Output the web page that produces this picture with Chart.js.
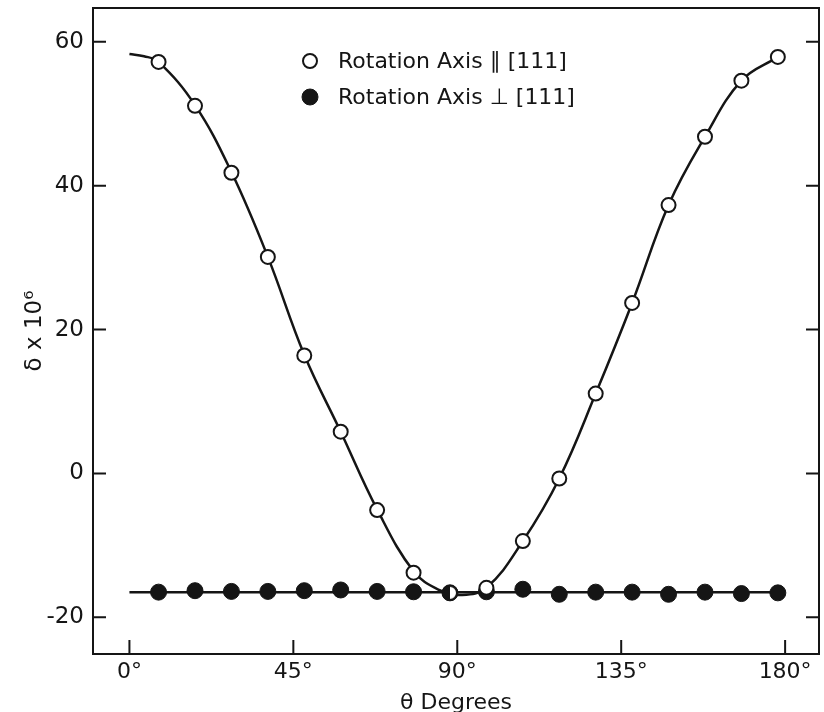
<!DOCTYPE html>
<html>
<head>
<meta charset="utf-8">
<script src="https://cdn.jsdelivr.net/npm/chart.js@4/dist/chart.umd.min.js"></script>
<style>
  html, body { margin: 0; padding: 0; background: #fff; overflow: hidden; }
  #wrap { width: 824px; height: 712px; }
  canvas { display: block; }
</style>
</head>
<body>
<div id="wrap"><canvas id="chart"></canvas></div>
<script>
// measured angles (deg) for both series
const thetaPoints = [8, 18, 28, 38, 48, 58, 68, 78, 88, 98, 108, 118, 128, 138, 148, 158, 168, 178];
// rotation axis parallel to [111]
const parallelDelta = [57.2, 51.1, 41.8, 30.1, 16.4, 5.8, -5.1, -13.8, -16.6, -15.9, -9.4, -0.7, 11.1, 23.7, 37.3, 46.8, 54.6, 57.9];
// rotation axis perpendicular to [111]
const perpDelta = [-16.5, -16.3, -16.4, -16.4, -16.3, -16.2, -16.4, -16.45, -16.6, -16.45, -16.1, -16.8, -16.5, -16.5, -16.8, -16.5, -16.7, -16.6];

// smooth curve drawn through the parallel data
const parallelFitTheta = [0, 4, 8, 18, 28, 38, 48, 58, 68, 78, 85, 91, 98, 108, 118, 128, 138, 148, 158, 168, 178];
const parallelFitDelta = [58.3, 58.0, 57.2, 51.2, 41.9, 30.1, 16.5, 5.8, -5.0, -13.6, -16.2, -16.9, -15.9, -9.4, -0.7, 11.1, 23.7, 37.3, 46.8, 54.6, 57.9];
// straight line through the perpendicular data
const perpFitTheta = [0, 180];
const perpFitDelta = [-16.5, -16.5];

const xTicks = [0, 45, 90, 135, 180];
const yTicks = [-20, 0, 20, 40, 60];
const labels = ['Rotation Axis \u2225 [111]', 'Rotation Axis \u22A5 [111]'];

const INK = '#151515';
const FONT = "'DejaVu Sans', sans-serif";
const overlapTheta = 88;

const toXY = (xs, ys) => xs.map((v, i) => ({ x: v, y: ys[i] }));

// half black / half white marker where the two series coincide
function halfMarker(r, bw) {
  const c = document.createElement('canvas');
  const s = Math.ceil(2 * r + bw + 2);
  c.width = s; c.height = s;
  const g = c.getContext('2d');
  const m = s / 2;
  g.fillStyle = '#fff';
  g.beginPath(); g.arc(m, m, r, 0, Math.PI * 2); g.fill();
  g.fillStyle = INK;
  g.beginPath(); g.arc(m, m, r, Math.PI / 2, Math.PI * 1.5); g.closePath(); g.fill();
  g.strokeStyle = INK; g.lineWidth = bw;
  g.beginPath(); g.arc(m, m, r, 0, Math.PI * 2); g.stroke();
  return c;
}
const halfImg = halfMarker(7, 2);

const frameTicks = {
  id: 'frameTicks',
  beforeDatasetsDraw(chart) {
    const { ctx, chartArea: a, scales: { x, y } } = chart;
    ctx.save();
    ctx.strokeStyle = INK;
    ctx.lineWidth = 2;
    ctx.strokeRect(a.left, a.top, a.right - a.left, a.bottom - a.top);
    ctx.beginPath();
    xTicks.forEach(v => {
      const px = x.getPixelForValue(v);
      ctx.moveTo(px, a.bottom); ctx.lineTo(px, a.bottom - 14);
    });
    yTicks.forEach(v => {
      const py = y.getPixelForValue(v);
      ctx.moveTo(a.left, py); ctx.lineTo(a.left + 13, py);
      ctx.moveTo(a.right, py); ctx.lineTo(a.right - 13, py);
    });
    ctx.stroke();
    ctx.restore();
  }
};

const keyBox = {
  id: 'keyBox',
  afterDraw(chart) {
    const { ctx, chartArea: a } = chart;
    const mx = a.left + 217, my = a.top + 53, gap = 36;
    ctx.save();
    [0, 1].forEach(i => {
      const ds = chart.data.datasets[i];
      const cy = my + i * gap;
      ctx.beginPath();
      ctx.arc(mx, cy, ds.pointRadius, 0, Math.PI * 2);
      ctx.fillStyle = ds.pointBackgroundColor;
      ctx.fill();
      ctx.lineWidth = ds.pointBorderWidth;
      ctx.strokeStyle = ds.pointBorderColor;
      ctx.stroke();
      ctx.fillStyle = INK;
      ctx.font = '22px ' + FONT;
      ctx.textBaseline = 'middle';
      ctx.fillText(ds.label, mx + 28, cy + 1);
    });
    ctx.restore();
  }
};

new Chart(document.getElementById('chart'), {
  type: 'scatter',
  data: {
    datasets: [
      {
        label: labels[0],
        data: toXY(thetaPoints, parallelDelta),
        showLine: false,
        pointRadius: 7,
        pointBorderWidth: 2,
        pointBackgroundColor: '#fff',
        pointBorderColor: INK,
        pointStyle: c => (c.raw && c.raw.x === overlapTheta ? halfImg : 'circle')
      },
      {
        label: labels[1],
        data: toXY(thetaPoints, perpDelta),
        showLine: false,
        pointRadius: 8,
        pointBorderWidth: 1,
        pointBackgroundColor: INK,
        pointBorderColor: INK
      },
      {
        label: 'fit parallel',
        data: toXY(parallelFitTheta, parallelFitDelta),
        showLine: true,
        pointRadius: 0,
        borderColor: INK,
        borderWidth: 2.5,
        tension: 0.4
      },
      {
        label: 'fit perpendicular',
        data: toXY(perpFitTheta, perpFitDelta),
        showLine: true,
        pointRadius: 0,
        borderColor: INK,
        borderWidth: 2.5
      }
    ]
  },
  options: {
    responsive: true,
    maintainAspectRatio: false,
    animation: false,
    layout: { autoPadding: false, padding: { top: 8, right: 5, left: 0, bottom: 0 } },
    plugins: {
      legend: { display: false },
      tooltip: { enabled: false }
    },
    scales: {
      x: {
        type: 'linear',
        min: -10,
        max: 189.3,
        afterBuildTicks: s => { s.ticks = xTicks.map(v => ({ value: v })); },
        afterFit: s => { s.height = 58; s.paddingLeft = 0; s.paddingRight = 0; },
        grid: { display: false, drawTicks: false },
        border: { display: false },
        ticks: {
          color: INK,
          padding: 5,
          maxRotation: 0,
          font: { family: FONT, size: 22 },
          callback: v => v + '\u00B0'
        },
        title: {
          display: true,
          text: '\u03B8 Degrees',
          color: INK,
          font: { family: FONT, size: 22, lineHeight: 0.8 },
          padding: { top: 0, bottom: 0 }
        }
      },
      y: {
        type: 'linear',
        min: -25.1,
        max: 64.7,
        afterBuildTicks: s => { s.ticks = yTicks.map(v => ({ value: v })); },
        afterFit: s => { s.width = 93; s.paddingTop = 0; s.paddingBottom = 0; },
        grid: { display: false, drawTicks: false },
        border: { display: false },
        ticks: {
          color: INK,
          padding: 9,
          font: { family: FONT, size: 23 }
        },
        title: {
          display: true,
          text: '\u03B4 x 10\u2076',
          color: INK,
          font: { family: FONT, size: 23, lineHeight: 1.2 },
          padding: { top: 21, bottom: 21 }
        }
      }
    }
  },
  plugins: [frameTicks, keyBox]
});
</script>
</body>
</html>
